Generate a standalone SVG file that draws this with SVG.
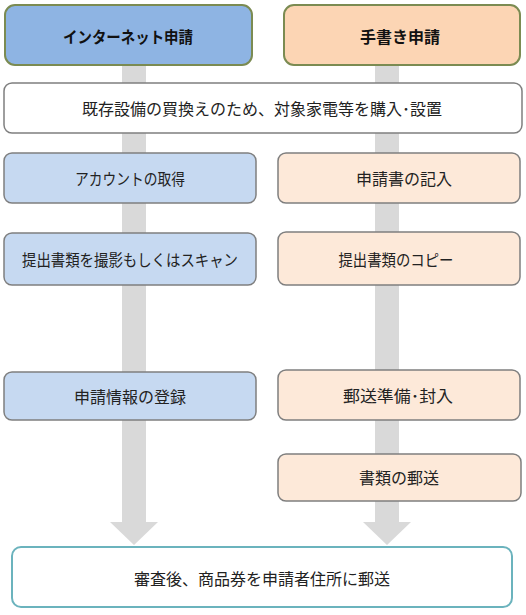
<svg xmlns="http://www.w3.org/2000/svg" width="526" height="615" viewBox="0 0 526 615">
<style>
text{font-family:"Noto Sans CJK JP","Noto Sans",sans-serif;font-size:16px;fill:#222;text-anchor:middle;dominant-baseline:central}
.title{font-weight:bold;font-size:16px;fill:#111}
.blue{fill:#c6d9f1;stroke:#7f7f7f;stroke-width:1.5}
.peach{fill:#fde9d9;stroke:#7f7f7f;stroke-width:1.5}
.arr{fill:#d9d9d9}
</style>
<rect width="526" height="615" fill="#fff"/>
<g id="connectors">
<path class="arr" d="M122,65 H146 V522 H158 L134,545 L110,522 H122 Z"/>
<path class="arr" d="M375,65 H399 V522 H411 L387,545 L363,522 H375 Z"/>
</g>
<g id="n-internet">
<rect x="5" y="5" width="247" height="60" rx="10" fill="#8eb4e3" stroke="#7b8b52" stroke-width="2"/>
<text class="title" x="128" y="36" textLength="130" lengthAdjust="spacingAndGlyphs">インターネット申請</text>
</g>
<g id="n-tegaki">
<rect x="284" y="5" width="236" height="60" rx="10" fill="#fcd5b4" stroke="#7b8b52" stroke-width="2"/>
<text class="title" x="400" y="36">手書き申請</text>
</g>
<g id="n-purchase">
<rect x="4" y="83" width="518" height="50" rx="8" fill="#fff" stroke="#7f7f7f" stroke-width="1.5"/>
<text x="262" y="108" textLength="360" lengthAdjust="spacingAndGlyphs">既存設備の買換えのため、対象家電等を購入･設置</text>
</g>
<g id="n-account">
<rect class="blue" x="4" y="153" width="252" height="50" rx="8"/>
<text x="130" y="178" textLength="110" lengthAdjust="spacingAndGlyphs">アカウントの取得</text>
</g>
<g id="n-scan">
<rect class="blue" x="4" y="233" width="252" height="52" rx="8"/>
<text x="130" y="259" textLength="216" lengthAdjust="spacingAndGlyphs">提出書類を撮影もしくはスキャン</text>
</g>
<g id="n-register">
<rect class="blue" x="4" y="372" width="252" height="48" rx="8"/>
<text x="130" y="396">申請情報の登録</text>
</g>
<g id="n-kinyu">
<rect class="peach" x="278" y="153" width="242" height="50" rx="8"/>
<text x="404" y="178">申請書の記入</text>
</g>
<g id="n-copy">
<rect class="peach" x="278" y="232" width="242" height="53" rx="8"/>
<text x="396" y="259" textLength="115" lengthAdjust="spacingAndGlyphs">提出書類のコピー</text>
</g>
<g id="n-prep">
<rect class="peach" x="278" y="370" width="242" height="50" rx="8"/>
<text x="398" y="395" textLength="110" lengthAdjust="spacingAndGlyphs">郵送準備･封入</text>
</g>
<g id="n-mail">
<rect class="peach" x="278" y="454" width="243" height="47" rx="8"/>
<text x="399" y="477">書類の郵送</text>
</g>
<g id="n-review">
<rect x="12" y="547" width="500" height="60" rx="9" fill="#fff" stroke="#6bb3bd" stroke-width="2"/>
<text x="262" y="578">審査後、商品券を申請者住所に郵送</text>
</g>
</svg>
